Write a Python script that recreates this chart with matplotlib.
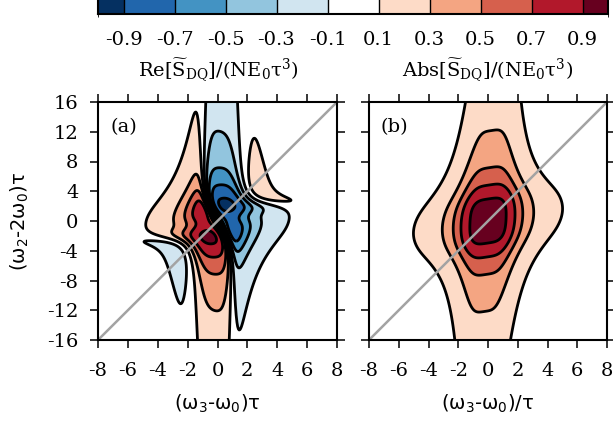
import numpy as np
import matplotlib
matplotlib.use("Agg")
import matplotlib.pyplot as plt
from matplotlib.colors import ListedColormap, BoundaryNorm
from matplotlib.cm import ScalarMappable

plt.rcParams["font.family"] = ["DejaVu Serif"]
plt.rcParams["mathtext.fontset"] = "dejavuserif"
plt.rcParams["axes.unicode_minus"] = False

# colour classes of the shared colour bar
level_bounds = [-1.0, -0.9, -0.7, -0.5, -0.3, -0.1, 0.1, 0.3, 0.5, 0.7, 0.9, 1.0]
level_colors = ["#053061", "#2166ac", "#4393c3", "#92c5de", "#d1e5f0", "#ffffff",
                "#fddbc7", "#f4a582", "#d6604d", "#b2182b", "#67001f"]
line_levels = [-0.9, -0.7, -0.5, -0.3, -0.1, 0.1, 0.3, 0.5, 0.7, 0.9]
cbar_ticks = [-0.9, -0.7, -0.5, -0.3, -0.1, 0.1, 0.3, 0.5, 0.7, 0.9]
cbar_ticklabels = ["-0.9", "-0.7", "-0.5", "-0.3", "-0.1", "0.1", "0.3", "0.5", "0.7", "0.9"]

x_ticks = [-8, -6, -4, -2, 0, 2, 4, 6, 8]
y_ticks = [-16, -12, -8, -4, 0, 4, 8, 12, 16]
x_range = [-8, 8]
y_range = [-16, 16]
panel_tags = ["(a)", "(b)"]
x_labels = ["(ω$_3$-ω$_0$)τ", "(ω$_3$-ω$_0$)/τ"]
y_label = "(ω$_2$-2ω$_0$)τ"
cbar_titles = [r"Re[$\widetilde{\mathrm{S}}_{\mathrm{DQ}}$]/(NE$_0$τ$^3$)",
               r"Abs[$\widetilde{\mathrm{S}}_{\mathrm{DQ}}$]/(NE$_0$τ$^3$)"]

# double-quantum lineshape parameters (detunings in units of 1/τ)
peak = 0.98
w3_width, w3_power = 1.935, 0.6
w2_width = 3.71
shear_x, shear_y = 0.02, 0.3
narrow_amp, narrow_scale = 0.4, 30.0
# phase of the complex spectrum
node_shift, node_scale, node_width = 1.0, 3.4, 0.6
core_phase, core_reach, core_size, core_tilt = 1.1, 3.5, 1.6, 0.4
wind_rate, wind_start, wind_soft = 1.6, 1.9, 0.5
wind_tilt, wind_sat, wind_gate = 3.75, 4.0, 2.0

w3 = np.linspace(x_range[0], x_range[1], 321)
w2 = np.linspace(y_range[0], y_range[1], 641)
W3, W2 = np.meshgrid(w3, w2)

xs = W3 - shear_x * W2
ys = W2 - shear_y * W3
narrowing = 1 + narrow_amp * ys**2 / (ys**2 + narrow_scale)
amplitude = peak * ((1 + (xs * narrowing / w3_width)**4)**(-w3_power)
                    * (1 + (ys / w2_width)**4)**(-0.25))


def softplus(z):
    return np.logaddexp(0.0, z)


def winding(a, b):
    v = a + wind_sat * np.tanh(b / wind_sat) / wind_tilt
    gate = 1.0 / (1.0 + np.exp(-(b - wind_gate)))
    return wind_rate * wind_soft * softplus((v - wind_start) / wind_soft) * gate


node = -node_shift * np.tanh(W2 / node_scale)
core = core_phase / (1 + (W3 / core_reach)**2)
band = np.exp(-((W2 - core_tilt * W3) / core_size)**2)
plateau = np.pi / 2 - (np.pi / 2 - core) * band
phase = plateau * np.tanh((W3 - node) / node_width)
phase = phase + winding(W3, W2) - winding(-W3, -W2)
spectrum = 1j * amplitude * np.exp(1j * phase)

fields = [np.real(spectrum), np.abs(spectrum)]

cmap = ListedColormap(level_colors)
norm = BoundaryNorm(level_bounds, cmap.N)

fig = plt.figure(figsize=(6.13, 4.25), dpi=100)
W, H = 613.0, 425.0
axes = [fig.add_axes([98 / W, 1 - 340 / H, 239 / W, 238 / H]),
        fig.add_axes([369 / W, 1 - 340 / H, 238 / W, 238 / H])]

for k, (ax, field) in enumerate(zip(axes, fields)):
    vals = np.clip(field, -0.999, 0.999)
    ax.contourf(w3, w2, vals, levels=level_bounds, cmap=cmap, norm=norm)
    ax.contour(w3, w2, vals, levels=line_levels, colors="black",
               linewidths=2.0, linestyles="solid")
    ax.plot(x_range, [2 * v for v in x_range], color="#a3a3a3", lw=1.8)
    ax.set_xlim(x_range)
    ax.set_ylim(y_range)
    ax.set_xticks(x_ticks)
    ax.set_yticks(y_ticks)
    ax.tick_params(direction="out", length=6, width=1.1, top=True, right=True,
                   labelsize=14)
    ax.tick_params(axis="x", pad=10)
    ax.tick_params(axis="y", pad=8)
    for sp in ax.spines.values():
        sp.set_linewidth(1.5)
    ax.set_xlabel(x_labels[k], fontsize=14, family="DejaVu Sans",
                  math_fontfamily="dejavusans", labelpad=9)
    ax.text(-6.3, 12.6, panel_tags[k], fontsize=14, ha="center", va="center")

axes[1].tick_params(labelleft=False)
axes[0].set_ylabel(y_label, fontsize=14, family="DejaVu Sans",
                   math_fontfamily="dejavusans", labelpad=12)

cax = fig.add_axes([98 / W, 1 - 14 / H, 510 / W, 17 / H])
cb = fig.colorbar(ScalarMappable(norm=norm, cmap=cmap), cax=cax,
                  orientation="horizontal", ticks=cbar_ticks, drawedges=True,
                  spacing="proportional")
cb.set_ticklabels(cbar_ticklabels)
cb.outline.set_linewidth(1.5)
cb.dividers.set_linewidth(1.0)
cax.tick_params(length=0, labelsize=14, pad=12)

fig.text(218 / W, 1 - 70 / H, cbar_titles[0], fontsize=14, ha="center", va="center")
fig.text(488 / W, 1 - 70 / H, cbar_titles[1], fontsize=14, ha="center", va="center")

fig.savefig("out.png", dpi=100)
